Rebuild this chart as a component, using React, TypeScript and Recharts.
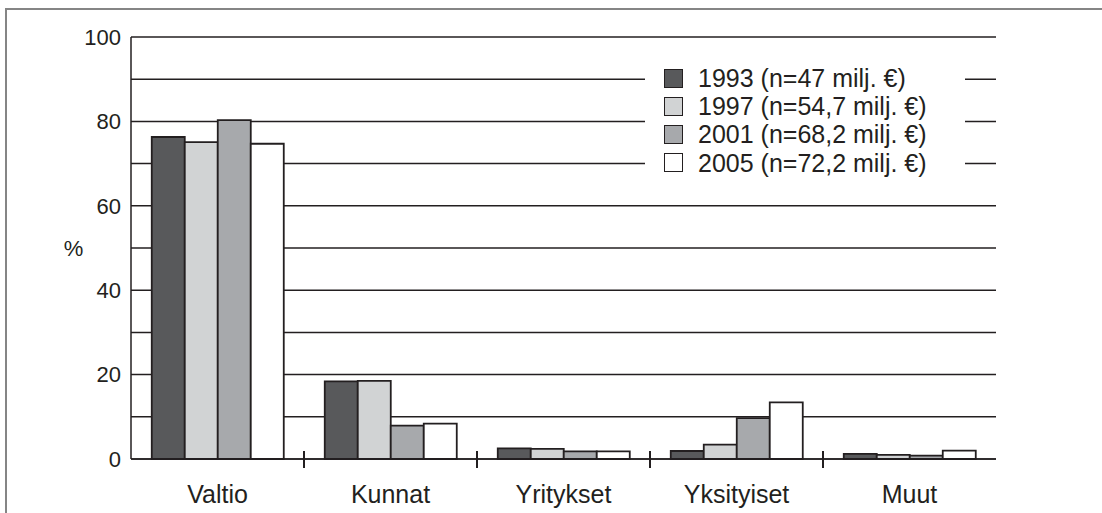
import React from "react";
import {
  BarChart,
  Bar,
  XAxis,
  YAxis,
  CartesianGrid,
  Legend,
} from "recharts";

const categories = ["Valtio", "Kunnat", "Yritykset", "Yksityiset", "Muut"];
const v1993 = [76.3, 18.4, 2.5, 1.9, 1.2];
const v1997 = [75.1, 18.5, 2.4, 3.4, 1.0];
const v2001 = [80.3, 7.9, 1.8, 9.7, 0.8];
const v2005 = [74.7, 8.4, 1.8, 13.4, 2.0];
const yTicks = [0, 10, 20, 30, 40, 50, 60, 70, 80, 90, 100];

const series = [
  { key: "y1993", name: "1993 (n=47 milj. €)", fill: "#58595b", values: v1993 },
  { key: "y1997", name: "1997 (n=54,7 milj. €)", fill: "#d1d3d4", values: v1997 },
  { key: "y2001", name: "2001 (n=68,2 milj. €)", fill: "#a7a9ac", values: v2001 },
  { key: "y2005", name: "2005 (n=72,2 milj. €)", fill: "#ffffff", values: v2005 },
];

const data = categories.map((name, i) => {
  const row: Record<string, string | number> = { name };
  series.forEach((s) => (row[s.key] = s.values[i]));
  return row;
});

const INK = "#231f20";
const FONT = "'Liberation Sans', Arial, sans-serif";

function CategoryTick(props: any) {
  const { x, y, payload, index, visibleTicksCount } = props;
  const half = payload && payload.offset ? payload.offset : 0;
  const last = index >= (visibleTicksCount ?? categories.length) - 1;
  return (
    <g>
      <text
        x={x}
        y={y + 44}
        textAnchor="middle"
        fontFamily={FONT}
        fontSize={25}
        fill={INK}
      >
        {payload.value}
      </text>
      {!last && half > 0 && (
        <line
          x1={x + half}
          x2={x + half}
          y1={y - 8}
          y2={y + 9}
          stroke={INK}
          strokeWidth={2}
        />
      )}
    </g>
  );
}

function LegendBox(props: any) {
  const items = props.payload || [];
  return (
    <div style={{ fontFamily: FONT, fontSize: 25, color: INK }}>
      {items.map((it: any) => (
        <div
          key={it.value}
          style={{ display: "flex", alignItems: "center", height: 28.2 }}
        >
          <span
            style={{
              display: "inline-block",
              width: 17,
              height: 17,
              background: it.color,
              border: `1.5px solid ${INK}`,
              marginRight: 15,
            }}
          />
          <span style={{ lineHeight: "28px" }}>{it.value}</span>
        </div>
      ))}
    </div>
  );
}

export default function App() {
  return (
    <div
      style={{
        position: "absolute",
        left: 0,
        top: 0,
        width: 1102,
        height: 513,
        overflow: "hidden",
        background: "#fff",
      }}
    >
      <div
        style={{
          position: "absolute",
          left: 5,
          top: 8,
          width: 1200,
          height: 600,
          borderTop: "2px solid #858585",
          borderLeft: "2px solid #858585",
        }}
      />
      <div style={{ position: "absolute", left: 0, top: 0 }}>
        <BarChart
          width={1102}
          height={513}
          data={data}
          margin={{ top: 37, right: 106, bottom: 0, left: 0 }}
          barCategoryGap="12%"
          barGap={0}
        >
          <CartesianGrid
            vertical={false}
            stroke={INK}
            strokeWidth={1.5}
            strokeOpacity={1}
          />
          <XAxis
            dataKey="name"
            height={54}
            tickLine={false}
            tickSize={0}
            tickMargin={0}
            axisLine={{ stroke: INK, strokeWidth: 1.5 }}
            tick={<CategoryTick />}
            interval={0}
          />
          <YAxis
            width={131}
            domain={[0, 100]}
            ticks={yTicks}
            interval={0}
            tickFormatter={(v: number) => (v % 20 === 0 ? String(v) : "")}
            tickLine={false}
            tickSize={0}
            tickMargin={10}
            axisLine={{ stroke: INK, strokeWidth: 1.5 }}
            tick={{ fill: INK, fontFamily: FONT, fontSize: 22 }}
            label={{
              value: "%",
              position: "center",
              dx: 8,
              fill: INK,
              fontFamily: FONT,
              fontSize: 22,
            }}
          />
          <YAxis
            yAxisId="r"
            orientation="right"
            width={0}
            domain={[0, 100]}
            tick={false}
            tickLine={false}
            axisLine={{ stroke: INK, strokeWidth: 1.5 }}
          />
          <Legend
            layout="vertical"
            align="center"
            verticalAlign="middle"
            content={<LegendBox />}
            wrapperStyle={{
              position: "absolute",
              left: 645,
              top: 52,
              width: 320,
              height: 140,
              padding: "12px 0 0 19px",
              boxSizing: "border-box",
              background: "#fff",
            }}
          />
          {series.map((s) => (
            <Bar
              key={s.key}
              dataKey={s.key}
              name={s.name}
              fill={s.fill}
              stroke={INK}
              strokeWidth={1.8}
              isAnimationActive={false}
            />
          ))}
        </BarChart>
      </div>
    </div>
  );
}
